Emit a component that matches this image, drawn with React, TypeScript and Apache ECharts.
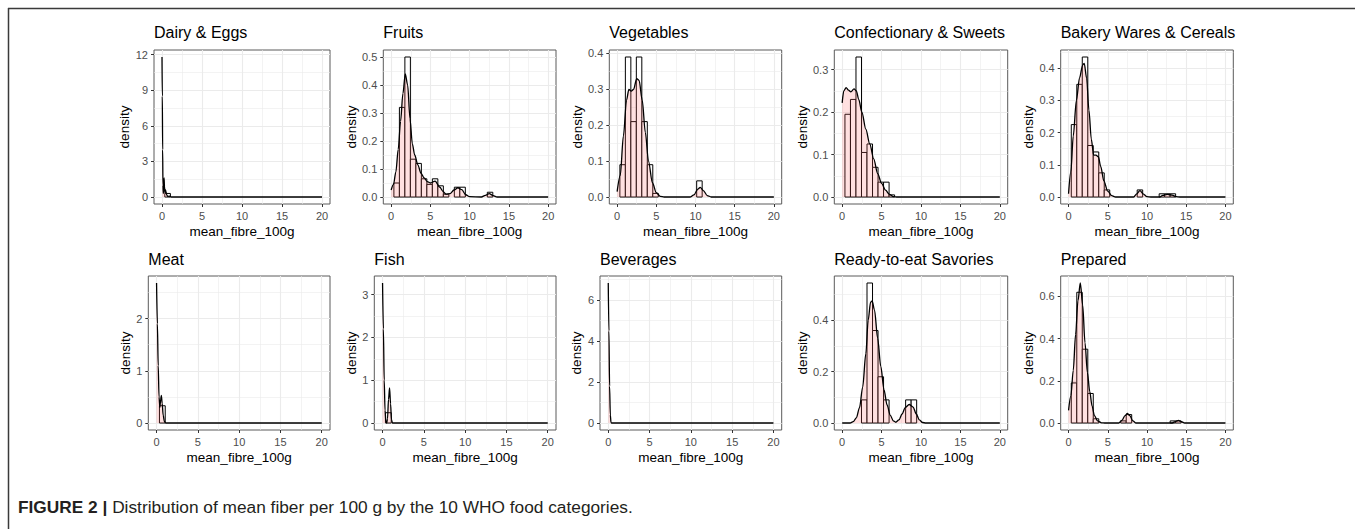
import React, { useEffect, useRef } from "react";
import * as echarts from "echarts";

// ---------- data ----------
const titles = [
  "Dairy & Eggs",
  "Fruits",
  "Vegetables",
  "Confectionary & Sweets",
  "Bakery Wares & Cereals",
  "Meat",
  "Fish",
  "Beverages",
  "Ready-to-eat Savories",
  "Prepared",
];

// histogram bin width; bin k is centred on k * BIN_WIDTH
const BIN_WIDTH = 0.7;

const dairyBins = [0, 0.3];
const fruitsBins = [0, 0.05, 0.32, 0.5, 0.135, 0.12, 0.065, 0.045, 0.065, 0.04, 0.01, 0, 0.035, 0.035, 0, 0, 0, 0, 0.017];
const vegBins = [0, 0.09, 0.39, 0.21, 0.39, 0.21, 0.09, 0.01, 0, 0, 0, 0, 0, 0, 0, 0.045];
const confBins = [0, 0.195, 0.23, 0.33, 0.105, 0.125, 0.07, 0.035, 0.035, 0.005];
const bakeryBins = [0, 0.225, 0.35, 0.435, 0.16, 0.14, 0.075, 0.022, 0, 0, 0, 0, 0, 0.022, 0, 0, 0, 0.01, 0.01, 0.01];
const meatBins = [0, 0.33];
const fishBins = [0, 0.24];
const bevBins: number[] = [];
const readyBins = [0, 0, 0, 0, 0.09, 0.545, 0.36, 0.18, 0.09, 0, 0, 0, 0.09, 0.09];
const prepBins = [0, 0.19, 0.62, 0.35, 0.14, 0.02, 0, 0, 0, 0, 0.01, 0.04, 0, 0, 0, 0, 0, 0, 0, 0.01, 0.01];

const dairyDensity = [[0, 11.8], [0.04, 8.5], [0.08, 4], [0.12, 1], [0.16, 0.3], [0.2, 0.6], [0.26, 1.6], [0.31, 0.9], [0.37, 0.35], [0.43, 0.6], [0.5, 0.45], [0.6, 0.15], [0.75, 0.05], [0.9, 0.08], [1.05, 0.03], [1.2, 0], [20, 0]];
const fruitsDensity = [[0, 0.025], [0.3, 0.045], [0.6, 0.09], [0.9, 0.17], [1.2, 0.27], [1.5, 0.37], [1.8, 0.44], [2.1, 0.4], [2.4, 0.28], [2.7, 0.19], [3.0, 0.15], [3.4, 0.115], [3.8, 0.085], [4.2, 0.068], [4.6, 0.055], [5.0, 0.05], [5.6, 0.057], [6.2, 0.035], [6.6, 0.02], [7.0, 0.01], [7.5, 0.012], [8.0, 0.025], [8.5, 0.033], [9.0, 0.026], [9.5, 0.008], [10.0, 0.001], [11.5, 0], [12.0, 0.006], [12.5, 0.012], [13.0, 0.005], [13.5, 0], [20, 0]];
const vegDensity = [[0, 0.015], [0.4, 0.06], [0.8, 0.17], [1.2, 0.27], [1.5, 0.3], [1.8, 0.295], [2.1, 0.3], [2.5, 0.33], [2.8, 0.325], [3.2, 0.27], [3.6, 0.18], [4.0, 0.1], [4.5, 0.04], [5.0, 0.012], [5.5, 0.002], [6, 0], [9.3, 0], [9.8, 0.006], [10.3, 0.022], [10.6, 0.027], [11.0, 0.018], [11.5, 0.004], [12, 0], [20, 0]];
const confDensity = [[0, 0.222], [0.2, 0.25], [0.5, 0.258], [0.8, 0.252], [1.1, 0.248], [1.5, 0.255], [1.8, 0.25], [2.1, 0.23], [2.5, 0.2], [3.0, 0.16], [3.5, 0.125], [4.0, 0.09], [4.5, 0.055], [5.0, 0.032], [5.5, 0.016], [6.0, 0.006], [6.5, 0.001], [7, 0], [20, 0]];
const bakeryDensity = [[0, 0.01], [0.3, 0.08], [0.6, 0.19], [1.0, 0.3], [1.4, 0.37], [1.8, 0.41], [2.0, 0.415], [2.3, 0.37], [2.6, 0.27], [2.9, 0.18], [3.2, 0.13], [3.5, 0.13], [3.8, 0.125], [4.1, 0.095], [4.5, 0.05], [5.0, 0.018], [5.5, 0.004], [6, 0], [8.3, 0], [8.7, 0.01], [9.1, 0.02], [9.5, 0.01], [10, 0.001], [10.5, 0], [11.6, 0], [12.0, 0.005], [12.6, 0.008], [13.2, 0.006], [13.7, 0.001], [14.2, 0], [20, 0]];
const meatDensity = [[0, 2.68], [0.1, 1.9], [0.2, 1.1], [0.3, 0.5], [0.4, 0.3], [0.5, 0.45], [0.58, 0.53], [0.68, 0.38], [0.8, 0.15], [0.95, 0.03], [1.1, 0], [20, 0]];
const fishDensity = [[0, 3.27], [0.1, 2.2], [0.2, 1.0], [0.3, 0.3], [0.4, 0.03], [0.5, 0], [0.6, 0.1], [0.72, 0.55], [0.85, 0.82], [0.97, 0.45], [1.08, 0.08], [1.2, 0], [20, 0]];
const bevDensity = [[0, 6.84], [0.08, 4.5], [0.16, 1.8], [0.25, 0.4], [0.33, 0.03], [0.4, 0], [20, 0]];
const readyDensity = [[0, 0], [1.0, 0], [1.4, 0.005], [1.8, 0.02], [2.2, 0.06], [2.6, 0.14], [3.0, 0.27], [3.3, 0.4], [3.6, 0.47], [3.8, 0.475], [4.1, 0.44], [4.5, 0.33], [4.9, 0.22], [5.3, 0.13], [5.7, 0.07], [6.1, 0.03], [6.5, 0.008], [6.8, 0.003], [7.2, 0.012], [7.6, 0.035], [8.0, 0.06], [8.5, 0.072], [9.0, 0.062], [9.4, 0.035], [9.8, 0.012], [10.2, 0.002], [10.6, 0], [20, 0]];
const prepDensity = [[0, 0.06], [0.3, 0.13], [0.6, 0.25], [0.9, 0.42], [1.2, 0.58], [1.5, 0.664], [1.8, 0.56], [2.1, 0.38], [2.4, 0.24], [2.7, 0.15], [3.0, 0.08], [3.3, 0.035], [3.7, 0.01], [4.2, 0.001], [4.6, 0], [6.4, 0], [6.8, 0.012], [7.2, 0.035], [7.5, 0.045], [7.8, 0.035], [8.2, 0.01], [8.6, 0], [13.2, 0], [13.7, 0.008], [14.0, 0.012], [14.4, 0.006], [14.8, 0], [20, 0]];

const allBins = [dairyBins, fruitsBins, vegBins, confBins, bakeryBins, meatBins, fishBins, bevBins, readyBins, prepBins];
const allDensity = [dairyDensity, fruitsDensity, vegDensity, confDensity, bakeryDensity, meatDensity, fishDensity, bevDensity, readyDensity, prepDensity];

const xTicks = [0, 5, 10, 15, 20];
const yTicks = [
  [0, 3, 6, 9, 12],
  [0, 0.1, 0.2, 0.3, 0.4, 0.5],
  [0, 0.1, 0.2, 0.3, 0.4],
  [0, 0.1, 0.2, 0.3],
  [0, 0.1, 0.2, 0.3, 0.4],
  [0, 1, 2],
  [0, 1, 2, 3],
  [0, 2, 4, 6],
  [0, 0.2, 0.4],
  [0, 0.2, 0.4, 0.6],
];
const yDecimals = [0, 1, 1, 1, 1, 0, 0, 0, 1, 1];

const xName = "mean_fibre_100g";
const yName = "density";
const captionBold = "FIGURE 2 |";
const captionText = " Distribution of mean fiber per 100 g by the 10 WHO food categories.";

// ---------- layout ----------
const FONT = "'Liberation Sans', Arial, Helvetica, sans-serif";
const plotLefts = [154, 383.3, 609.3, 834.3, 1060.7, 148.3, 374.3, 600, 834.3, 1060.7];
const plotRights = [330, 556, 781.7, 1007.7, 1233.3, 330, 556, 781.7, 1007.7, 1233.3];
const rowTops = [50, 276];
const PLOT_H = 154;
const titleY = [32.8, 259.5];

function minorOf(ticks: number[], lo: number, hi: number) {
  const step = ticks[1] - ticks[0];
  const ext = [ticks[0] - step, ...ticks, ticks[ticks.length - 1] + step];
  const out: number[] = [];
  for (let i = 0; i < ext.length - 1; i++) {
    const m = (ext[i] + ext[i + 1]) / 2;
    if (m > lo && m < hi) out.push(m);
  }
  return out;
}

function buildOption() {
  const grid: any[] = [];
  const xAxis: any[] = [];
  const yAxis: any[] = [];
  const series: any[] = [];
  const graphic: any[] = [];

  titles.forEach((title, i) => {
    const row = i < 5 ? 0 : 1;
    const left = plotLefts[i];
    const right = plotRights[i];
    const bins = allBins[i];
    const dens = allDensity[i];
    const M = Math.max(...bins, ...dens.map((d) => d[1]));
    const ymin = -0.05 * M;
    const ymax = 1.05 * M;
    const yt = yTicks[i];
    const dec = yDecimals[i];
    const labelW = Math.max(...yt.map((v) => v.toFixed(dec).length)) * 5.9 + (dec > 0 ? -2.9 : 0);

    grid.push({
      left,
      top: rowTops[row],
      width: right - left,
      height: PLOT_H,
      show: true,
      backgroundColor: "#ffffff",
      borderColor: "#5a5a5a",
      borderWidth: 1,
      containLabel: false,
    });

    xAxis.push({
      type: "value",
      gridIndex: i,
      min: -1,
      max: 21,
      name: xName,
      nameLocation: "middle",
      nameGap: 20,
      nameTextStyle: { fontSize: 13.5, color: "#000", fontFamily: FONT },
      axisLine: { show: false, onZero: false },
      axisTick: { show: true, length: 3, lineStyle: { color: "#333", width: 1 }, customValues: xTicks },
      axisLabel: { customValues: xTicks, margin: 6, fontSize: 11, color: "#4d4d4d", fontFamily: FONT },
      splitLine: { show: false },
    });

    yAxis.push({
      type: "value",
      gridIndex: i,
      min: ymin,
      max: ymax,
      name: yName,
      nameLocation: "middle",
      nameRotate: 90,
      nameGap: 10 + labelW,
      nameTextStyle: { fontSize: 13.5, color: "#000", fontFamily: FONT },
      axisLine: { show: false, onZero: false },
      axisTick: { show: true, length: 3, lineStyle: { color: "#333", width: 1 }, customValues: yt },
      axisLabel: {
        customValues: yt,
        margin: 6,
        fontSize: 11,
        color: "#4d4d4d",
        fontFamily: FONT,
        formatter: (v: number) => Number(v).toFixed(dec),
      },
      splitLine: { show: false },
    });

    const xMinor = minorOf(xTicks, -1, 21);
    const yMinor = minorOf(yt, ymin, ymax);
    const gridLines: any[] = [];
    xMinor.forEach((v) => gridLines.push({ xAxis: v, lineStyle: { width: 0.6 } }));
    yMinor.forEach((v) => gridLines.push({ yAxis: v, lineStyle: { width: 0.6 } }));
    xTicks.forEach((v) => gridLines.push({ xAxis: v, lineStyle: { width: 1.1 } }));
    yt.forEach((v) => gridLines.push({ yAxis: v, lineStyle: { width: 1.1 } }));

    const barData = bins
      .map((h, k) => [k * BIN_WIDTH - BIN_WIDTH / 2, k * BIN_WIDTH + BIN_WIDTH / 2, h])
      .filter((d) => d[2] > 0);

    series.push({
      type: "custom",
      xAxisIndex: i,
      yAxisIndex: i,
      z: 2,
      silent: true,
      encode: { x: [0, 1], y: 2 },
      data: barData,
      renderItem: (_p: any, api: any) => {
        const x0 = api.value(0);
        const x1 = api.value(1);
        const h = api.value(2);
        const a = api.coord([x0, h]);
        const b = api.coord([x1, 0]);
        return {
          type: "rect",
          shape: { x: a[0], y: a[1], width: b[0] - a[0], height: b[1] - a[1] },
          style: { fill: "#ffffff", stroke: "#000000", lineWidth: 1 },
        };
      },
    });

    series.push({
      type: "line",
      xAxisIndex: i,
      yAxisIndex: i,
      z: 3,
      silent: true,
      data: dens,
      smooth: 0.3,
      smoothMonotone: "x",
      showSymbol: false,
      symbol: "none",
      lineStyle: { color: "#000000", width: 1.3 },
      areaStyle: { color: "rgba(255,102,102,0.2)", opacity: 1 },
      markLine: {
        silent: true,
        z: 1,
        symbol: ["none", "none"],
        label: { show: false },
        emphasis: { disabled: true },
        animation: false,
        lineStyle: { color: "#EBEBEB", type: "solid" },
        data: gridLines,
      },
    });

    graphic.push({
      type: "text",
      x: left,
      y: titleY[row],
      silent: true,
      style: {
        text: title,
        fontSize: 16,
        fontFamily: FONT,
        fill: "#000",
        align: "left",
        verticalAlign: "middle",
      },
    });
  });

  // figure frame (top and left rules)
  graphic.push({
    type: "line",
    silent: true,
    shape: { x1: 8, y1: 8.5, x2: 1355, y2: 8.5 },
    style: { stroke: "#3a3a3a", lineWidth: 1.5 },
  });
  graphic.push({
    type: "line",
    silent: true,
    shape: { x1: 8.5, y1: 8, x2: 8.5, y2: 529 },
    style: { stroke: "#3a3a3a", lineWidth: 1.5 },
  });
  // caption
  graphic.push({
    type: "text",
    x: 18,
    y: 507,
    silent: true,
    style: {
      text: "{b|" + captionBold + "}" + captionText,
      fontSize: 17.3,
      fontFamily: FONT,
      fill: "#231f20",
      align: "left",
      verticalAlign: "middle",
      rich: { b: { fontWeight: "bold", fontSize: 17.3, fontFamily: FONT, fill: "#231f20" } },
    },
  });

  return {
    animation: false,
    backgroundColor: "#ffffff",
    grid,
    xAxis,
    yAxis,
    series,
    graphic,
  };
}

export default function App() {
  const ref = useRef<HTMLDivElement>(null);
  useEffect(() => {
    if (!ref.current) return;
    const chart = echarts.init(ref.current, undefined, { renderer: "svg" });
    chart.setOption(buildOption() as any);
    return () => chart.dispose();
  }, []);
  return (
    <div
      ref={ref}
      style={{ position: "absolute", left: 0, top: 0, width: 1355, height: 529, background: "#fff" }}
    />
  );
}
